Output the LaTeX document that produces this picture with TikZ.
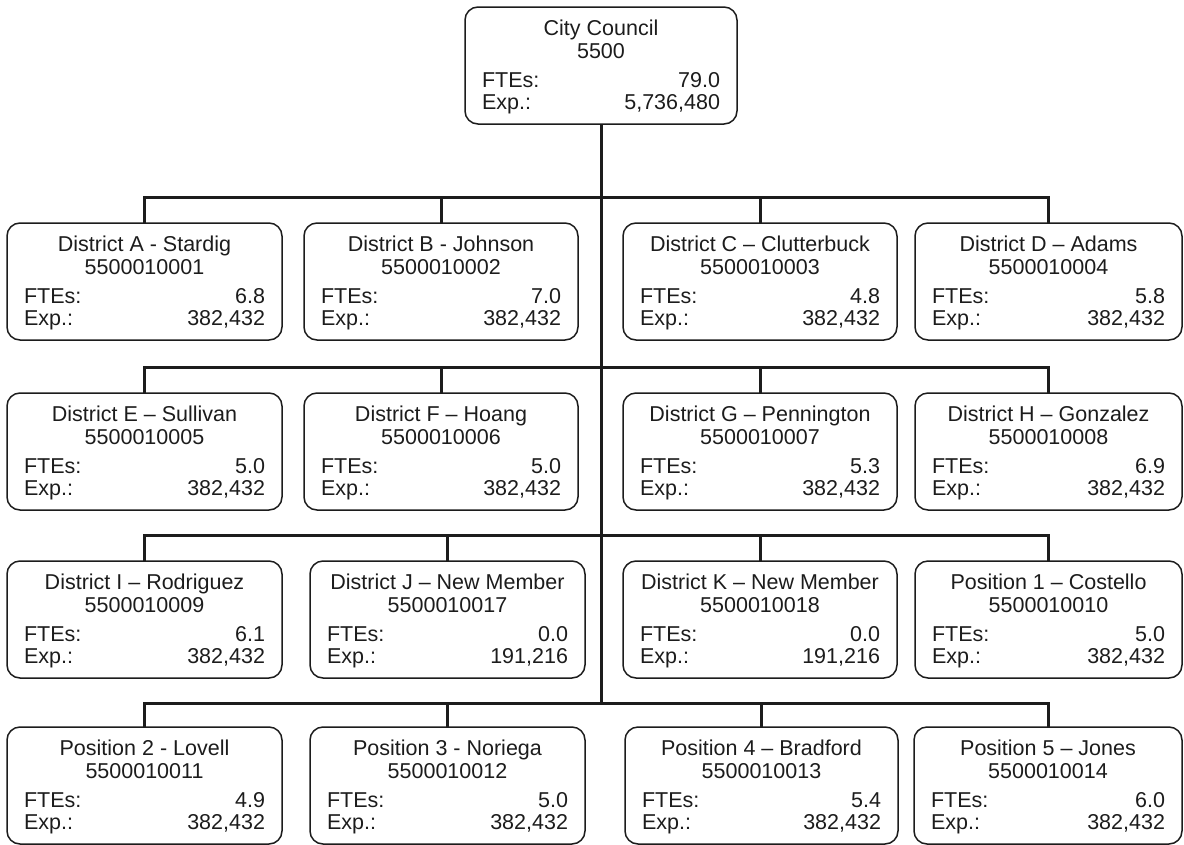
\documentclass[tikz,border=0pt]{standalone}
\usepackage{fontspec}
\setmainfont{Liberation Sans}
\definecolor{ink}{HTML}{1C1C1C}
\begin{document}
\begin{tikzpicture}[x=1pt,y=-1pt,
  obox/.style={draw=ink, line width=1.5pt, rounded corners=13pt, inner sep=0pt, outer sep=0pt},
  otext/.style={inner sep=0pt, outer sep=0pt, text=ink, font=\fontsize{21.5}{24}\selectfont},
  conn/.style={draw=ink, line width=3pt, line join=miter}]
\useasboundingbox (0,0) rectangle (1184,844);
\newcommand\orgbox[8]{%
  \node[obox, minimum width={(#3-#2)*1pt}, minimum height=117pt] (#1) at ({(#2+#3)/2},{#4+58.5}) {};
  \node[otext, anchor=base] (#1t) at ([yshift=-28pt]#1.north) {#5};
  \node[otext, anchor=base] (#1n) at ([yshift=-51pt]#1.north) {#6};
  \node[otext, anchor=base west] (#1f) at ([xshift=17pt,yshift=-80pt]#1.north west) {FTEs:};
  \node[otext, anchor=base east] (#1v) at ([xshift=-17pt,yshift=-80pt]#1.north east) {#7};
  \node[otext, anchor=base west] (#1e) at ([xshift=17pt,yshift=-102pt]#1.north west) {Exp.:};
  \node[otext, anchor=base east] (#1x) at ([xshift=-17pt,yshift=-102pt]#1.north east) {#8};
}
% top
\orgbox{top}{465}{737}{7}{City Council}{5500}{79.0}{5,736,480}
% row 1
\orgbox{A}{7}{282}{223}{District A - Stardig}{5500010001}{6.8}{382,432}
\orgbox{B}{304}{578}{223}{District B - Johnson}{5500010002}{7.0}{382,432}
\orgbox{C}{623}{897}{223}{District C – Clutterbuck}{5500010003}{4.8}{382,432}
\orgbox{D}{915}{1182}{223}{District D – Adams}{5500010004}{5.8}{382,432}
% row 2
\orgbox{E}{7}{282}{393}{District E – Sullivan}{5500010005}{5.0}{382,432}
\orgbox{F}{304}{578}{393}{District F – Hoang}{5500010006}{5.0}{382,432}
\orgbox{G}{623}{897}{393}{District G – Pennington}{5500010007}{5.3}{382,432}
\orgbox{H}{915}{1182}{393}{District H – Gonzalez}{5500010008}{6.9}{382,432}
% row 3
\orgbox{I}{7}{282}{561}{District I – Rodriguez}{5500010009}{6.1}{382,432}
\orgbox{J}{310}{585}{561}{District J – New Member}{5500010017}{0.0}{191,216}
\orgbox{K}{623}{897}{561}{District K – New Member}{5500010018}{0.0}{191,216}
\orgbox{P1}{915}{1182}{561}{Position 1 – Costello}{5500010010}{5.0}{382,432}
% row 4
\orgbox{P2}{7}{282}{727}{Position 2 - Lovell}{5500010011}{4.9}{382,432}
\orgbox{P3}{310}{585}{727}{Position 3 - Noriega}{5500010012}{5.0}{382,432}
\orgbox{P4}{625}{898}{727}{Position 4 – Bradford}{5500010013}{5.4}{382,432}
\orgbox{P5}{914}{1182}{727}{Position 5 – Jones}{5500010014}{6.0}{382,432}
% bus levels
\coordinate (b1) at (0,197);
\coordinate (b2) at (0,367);
\coordinate (b3) at (0,535);
\coordinate (b4) at (0,703);
% trunk
\draw[conn] (top.south) -- (top.south |- b4);
% row buses
\draw[conn] (A.north) |- (D.north |- b1) -- (D.north);
\draw[conn] (B.north) -- (B.north |- b1);
\draw[conn] (C.north) -- (C.north |- b1);
\draw[conn] (E.north) |- (H.north |- b2) -- (H.north);
\draw[conn] (F.north) -- (F.north |- b2);
\draw[conn] (G.north) -- (G.north |- b2);
\draw[conn] (I.north) |- (P1.north |- b3) -- (P1.north);
\draw[conn] (J.north) -- (J.north |- b3);
\draw[conn] (K.north) -- (K.north |- b3);
\draw[conn] (P2.north) |- (P5.north |- b4) -- (P5.north);
\draw[conn] (P3.north) -- (P3.north |- b4);
\draw[conn] (P4.north) -- (P4.north |- b4);
\end{tikzpicture}
\end{document}
